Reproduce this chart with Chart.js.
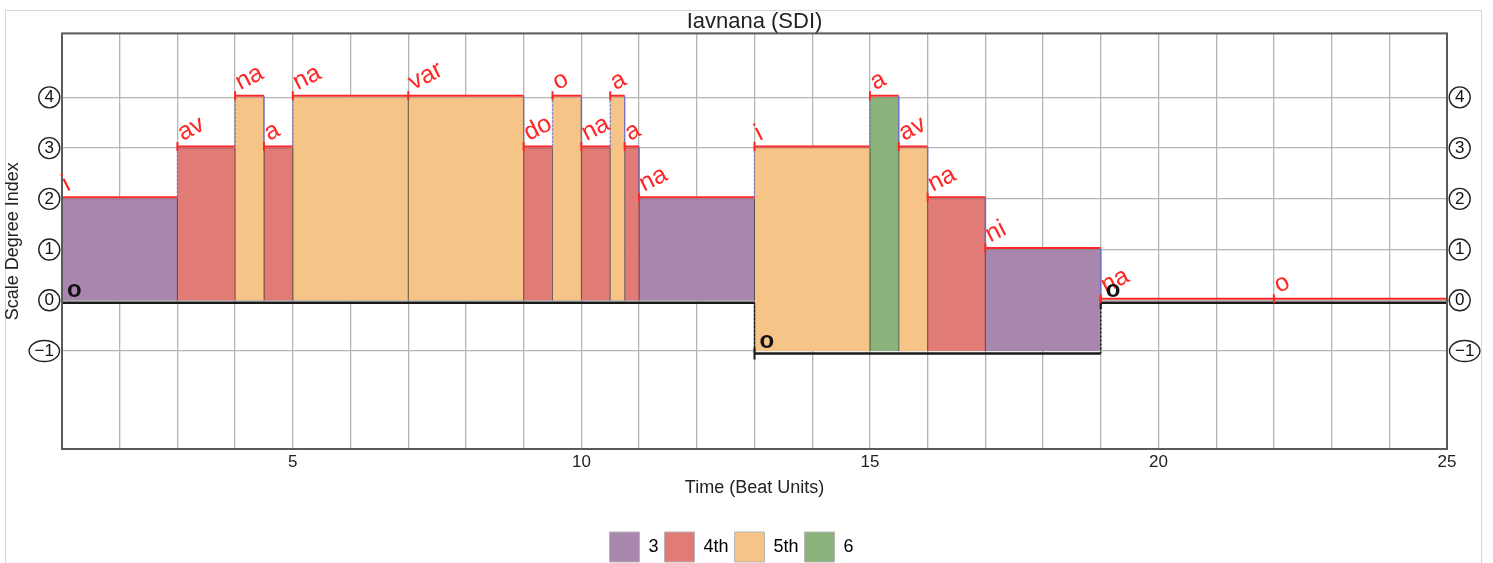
<!DOCTYPE html>
<html>
<head>
<meta charset="utf-8">
<script src="https://cdn.jsdelivr.net/npm/chart.js@4.4.1/dist/chart.umd.min.js"></script>
<style>
  html, body { margin: 0; padding: 0; overflow: hidden; background: #fff; }
  #wrap { width: 1493px; height: 572px; }
</style>
</head>
<body>
<div id="wrap"><canvas id="sdi_chart" width="1493" height="572"></canvas></div>
<script>
// sung syllables, one per held note
const syllables = ['i', 'av', 'na', 'a', 'na', 'var', 'do', 'o', 'na', 'a', 'a', 'na', 'i', 'a', 'av', 'na', 'ni', 'na', 'o'];
const segStart  = [1, 3, 4, 4.5, 5, 7, 9, 9.5, 10, 10.5, 10.75, 11, 13, 15, 15.5, 16, 17, 19, 22];
const segEnd    = [3, 4, 4.5, 5, 7, 9, 9.5, 10, 10.5, 10.75, 11, 13, 15, 15.5, 16, 17, 19, 22, 25];
const segDegree = [2, 3, 4, 3, 4, 4, 3, 4, 3, 4, 3, 2, 3, 4, 3, 2, 1, 0, 0];

// drone / tonic line
const tonicStart  = [1, 13, 19];
const tonicEnd    = [13, 19, 25];
const tonicDegree = [0, -1, 0];
const tonicLabel  = 'o';

// interval above the tonic (in steps) -> legend name
const intervalSteps  = [2, 3, 4, 5];
const intervalLabels = ['3', '4th', '5th', '6'];
const intervalColors = ['#a886ae', '#e07b76', '#f5c486', '#8bb27b'];

const xLabelTicks = [5, 10, 15, 20, 25];
const yTicks = [-1, 0, 1, 2, 3, 4];

const FONT = "'Liberation Sans', Arial, sans-serif";
const RED = '#ff2626';

function tonicAt(x) {
    for (let i = 0; i < tonicStart.length; i++) {
        if (x >= tonicStart[i] && x < tonicEnd[i]) return tonicDegree[i];
    }
    return tonicDegree[tonicDegree.length - 1];
}

function fmtDegree(v) {
    return v < 0 ? '\u2212' + Math.abs(v) : String(v);
}

// red melody outline: start/end point per note
const outlinePts = [];
for (let i = 0; i < segStart.length; i++) {
    outlinePts.push({x: segStart[i], y: segDegree[i]});
    outlinePts.push({x: segEnd[i], y: segDegree[i]});
}

const tonicPts = [];
for (let i = 0; i < tonicStart.length; i++) {
    tonicPts.push({x: tonicStart[i], y: tonicDegree[i]});
    tonicPts.push({x: tonicEnd[i], y: tonicDegree[i]});
}

const datasets = [{
    label: 'melody',
    data: outlinePts,
    borderColor: RED,
    borderWidth: 2,
    pointStyle: 'line',
    pointRotation: 90,
    pointRadius: ctx => ctx.dataIndex % 2 === 0 ? 4.5 : 0,
    pointBorderColor: RED,
    pointBorderWidth: 2,
    pointHoverRadius: 0,
    fill: false,
    segment: {
        borderColor: ctx => ctx.p0DataIndex % 2 === 0 ? RED : 'rgba(110,110,215,0.9)',
        borderDash: ctx => ctx.p0DataIndex % 2 === 0 ? [] : [2, 2],
        borderWidth: ctx => ctx.p0DataIndex % 2 === 0 ? 2 : 1.4
    }
}, {
    label: 'tonic',
    data: tonicPts,
    borderColor: '#1a1a1a',
    borderWidth: 2.5,
    pointStyle: 'line',
    pointRotation: 90,
    pointRadius: ctx => ctx.dataIndex % 2 === 0 ? 6 : 0,
    pointBorderColor: '#1a1a1a',
    pointBorderWidth: 2,
    pointHoverRadius: 0,
    fill: false,
    segment: {
        borderDash: ctx => ctx.p0DataIndex % 2 === 0 ? [] : [2, 2],
        borderWidth: ctx => ctx.p0DataIndex % 2 === 0 ? 2.5 : 1.5
    }
}];

// coloured blocks, from the tonic up to the note
for (let i = 0; i < segStart.length; i++) {
    const base = tonicAt(segStart[i]);
    const k = intervalSteps.indexOf(segDegree[i] - base);
    if (k < 0) continue;
    datasets.push({
        label: intervalLabels[k],
        data: [
            {x: segStart[i], y: base}, {x: segStart[i], y: segDegree[i]},
            {x: segEnd[i], y: segDegree[i]}, {x: segEnd[i], y: base}
        ],
        backgroundColor: intervalColors[k],
        borderColor: 'rgba(0,0,0,0.18)',
        borderWidth: 1,
        pointRadius: 0,
        fill: {value: base}
    });
}

const extras = {
    id: 'extras',
    beforeDraw(chart) {
        const c = chart.ctx;
        c.save();
        c.strokeStyle = '#d6d6d6';
        c.lineWidth = 1;
        c.strokeRect(5.5, 10.5, 1476, 620);
        c.restore();
    },
    afterLayout(chart) {
        // legend sits a little left of centre in the original
        chart.legend.left -= 15;
        chart.legend.right -= 15;
    },
    beforeDatasetDraw(chart, args) {
        if (args.index === 0) { chart.ctx.save(); chart.ctx.translate(0, -1.5); }
        if (args.index === 1) { chart.ctx.save(); chart.ctx.translate(0, 2.5); }
    },
    afterDatasetDraw(chart, args) {
        if (args.index === 0 || args.index === 1) chart.ctx.restore();
    },
    afterDatasetsDraw(chart) {
        const c = chart.ctx;
        const xs = chart.scales.x, ys = chart.scales.y;
        const a = chart.chartArea;
        c.save();
        c.strokeStyle = '#5a5a5a';
        c.lineWidth = 2;
        c.strokeRect(a.left, a.top, a.right - a.left, a.bottom - a.top);

        // syllables
        c.fillStyle = RED;
        c.font = '25px ' + FONT;
        c.textAlign = 'left';
        c.textBaseline = 'alphabetic';
        for (let i = 0; i < syllables.length; i++) {
            c.save();
            c.translate(xs.getPixelForValue(segStart[i]) + 5, ys.getPixelForValue(segDegree[i]) - 7);
            c.rotate(-27 * Math.PI / 180);
            c.fillText(syllables[i], 0, 0);
            c.restore();
        }
        // tonic syllable
        c.fillStyle = '#111';
        c.font = 'bold 24px ' + FONT;
        for (let i = 0; i < tonicStart.length; i++) {
            c.fillText(tonicLabel, xs.getPixelForValue(tonicStart[i]) + 5, ys.getPixelForValue(tonicDegree[i]) - 3);
        }
        c.restore();
    },
    afterDraw(chart) {
        // circles round the degree numbers
        const c = chart.ctx;
        c.save();
        c.strokeStyle = '#222';
        c.lineWidth = 1.4;
        ['y', 'y2'].forEach(id => {
            const s = chart.scales[id];
            const pad = s.options.ticks.padding;
            c.font = s.options.ticks.font.size + 'px ' + FONT;
            s.ticks.forEach(t => {
                const w = c.measureText(fmtDegree(t.value)).width;
                const py = s.getPixelForValue(t.value);
                const cx = s.position === 'left' ? s.right - pad - w / 2 : s.left + pad + w / 2;
                const rx = Math.max(10.5, w / 2 + 5.5);
                c.beginPath();
                c.ellipse(cx, py, rx, 10.5, 0, 0, Math.PI * 2);
                c.stroke();
            });
        });
        c.restore();
    }
};

const gridStyle = {color: '#b5b5b5', lineWidth: 1.3, drawTicks: false};

const yAxis = (pos, width) => ({
    type: 'linear',
    position: pos,
    min: -2.93,
    max: 5.26,
    afterBuildTicks: s => { s.ticks = yTicks.map(v => ({value: v})); },
    afterFit: s => { s.width = width; },
    ticks: {
        padding: 8,
        color: '#111',
        font: {family: FONT, size: 17},
        callback: v => fmtDegree(v)
    },
    border: {display: false},
    grid: pos === 'left' ? gridStyle : {display: false, drawTicks: false}
});

const scaleY = yAxis('left', 62);
scaleY.title = {
    display: true, text: 'Scale Degree Index', color: '#222',
    font: {family: FONT, size: 18}, padding: {top: 2, bottom: 0}
};

new Chart(document.getElementById('sdi_chart'), {
    type: 'line',
    data: {datasets: datasets},
    options: {
        responsive: false,
        animation: false,
        events: [],
        layout: {padding: 0},
        scales: {
            x: {
                type: 'linear',
                min: 1,
                max: 25,
                afterFit: s => { s.height = 77; },
                ticks: {
                    stepSize: 1,
                    autoSkip: false,
                    maxRotation: 0,
                    padding: 3,
                    color: '#222',
                    font: {family: FONT, size: 17},
                    callback: v => xLabelTicks.includes(v) ? String(v) : ''
                },
                border: {display: false},
                grid: gridStyle,
                title: {
                    display: true, text: 'Time (Beat Units)', color: '#222',
                    font: {family: FONT, size: 18}, padding: {top: 0, bottom: 27}
                }
            },
            y: scaleY,
            y2: yAxis('right', 46)
        },
        plugins: {
            title: {
                display: true,
                text: 'Iavnana (SDI)',
                color: '#222',
                fullSize: false,
                font: {family: FONT, size: 22, weight: 'normal'},
                padding: {top: 9, bottom: -2}
            },
            legend: {
                position: 'bottom',
                labels: {
                    boxWidth: 30,
                    boxHeight: 30,
                    padding: 6,
                    color: '#222',
                    font: {family: FONT, size: 18},
                    generateLabels: () => intervalLabels.map((t, i) => ({
                        text: t,
                        fillStyle: intervalColors[i],
                        strokeStyle: '#b5b5b5',
                        lineWidth: 1,
                        hidden: false
                    }))
                }
            },
            tooltip: {enabled: false}
        }
    },
    plugins: [extras]
});
</script>
</body>
</html>
